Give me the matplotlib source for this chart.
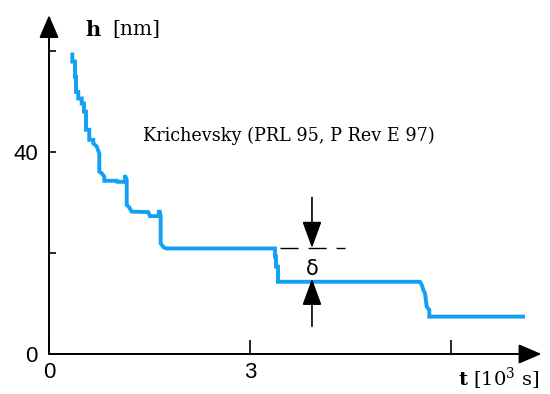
import matplotlib
matplotlib.use("Agg")
import matplotlib.pyplot as plt

# ---- data ----
t_vals = [0.348, 0.348, 0.388, 0.388, 0.403, 0.403, 0.437, 0.437, 0.488, 0.488,
          0.522, 0.522, 0.552, 0.552, 0.601, 0.601, 0.661, 0.661, 0.712, 0.751,
          0.751, 0.787, 0.825, 0.825, 1.010, 1.015, 1.134, 1.134, 1.160, 1.160,
          1.194, 1.234, 1.482, 1.507, 1.631, 1.646, 1.667, 1.667, 1.706, 1.746,
          3.373, 3.373, 3.388, 3.388, 3.418, 3.418, 5.537, 5.563, 5.587, 5.612,
          5.637, 5.676, 5.676, 7.104]
h_vals = [59.7, 57.9, 57.9, 54.9, 54.9, 51.9, 51.9, 50.6, 50.6, 49.6,
          49.6, 48.0, 48.0, 44.4, 44.4, 42.4, 42.4, 41.7, 41.1, 39.7,
          36.1, 35.8, 35.1, 34.3, 34.3, 34.1, 34.1, 35.4, 34.5, 29.5,
          29.1, 28.2, 28.1, 27.3, 27.3, 28.5, 27.3, 21.9, 21.2, 20.9,
          20.9, 19.3, 19.3, 17.3, 17.3, 14.3, 14.3, 13.7, 12.7, 12.0,
          9.4, 8.7, 7.4, 7.4]

x_ticks = [0, 3, 6]
x_tick_labels = ["0", "3", ""]
y_ticks = [0, 20, 40, 60]
y_tick_labels = ["0", "", "40", ""]

delta_x = 3.925
delta_upper = 21.0
delta_lower = 14.3
annotation_text = "Krichevsky (PRL 95, P Rev E 97)"

plt.rcParams['mathtext.fontset'] = 'dejavuserif'

fig = plt.figure(figsize=(5.5, 3.94), dpi=100, facecolor="white")
W, H = 550.0, 394.0
x0, xmax = 0.0, 7.35
y0, ymax = 0.0, 67.5
ax = fig.add_axes([49 / W, (H - 354) / H, (xmax * 67) / W, (ymax * 5.05) / H])
ax.set_xlim(x0, xmax)
ax.set_ylim(y0, ymax)
for s in ax.spines.values():
    s.set_visible(False)
ax.patch.set_alpha(0)

# axes with arrow heads
axis_kw = dict(arrowstyle="-|>,head_length=0.7,head_width=0.3", color="black",
               lw=1.4, shrinkA=0, shrinkB=0, mutation_scale=20)
ax.annotate("", xy=(7.35, 0), xytext=(0, 0), arrowprops=axis_kw, annotation_clip=False)
ax.annotate("", xy=(0, 67.1), xytext=(0, 0), arrowprops=axis_kw, annotation_clip=False)

ax.set_xticks(x_ticks)
ax.set_xticklabels(x_tick_labels)
ax.set_yticks(y_ticks)
ax.set_yticklabels(y_tick_labels)
ax.tick_params(axis="x", direction="in", length=10, width=1.2, pad=6,
               labelsize=16)
ax.tick_params(axis="y", direction="in", length=5, width=1.2, pad=8,
               labelsize=16)
for lab in ax.get_xticklabels() + ax.get_yticklabels():
    lab.set_fontfamily("Liberation Sans")
ax.get_xticklabels()[0].set_x(0.1)

# curve
ax.plot(t_vals, h_vals, color="#12A0F5", lw=2.8, solid_joinstyle="miter",
        solid_capstyle="butt", clip_on=False)

# delta annotation
dash_kw = dict(color="black", lw=1.0, dashes=(13, 7.2))
ax.plot([3.448, 4.418], [delta_upper, delta_upper], **dash_kw)
arr_kw = dict(arrowstyle="-|>,head_length=1.1,head_width=0.4", color="black",
              lw=1.2, shrinkA=0, shrinkB=0, mutation_scale=15)
ax.annotate("", xy=(delta_x, delta_upper), xytext=(delta_x, 31.0), arrowprops=arr_kw)
ax.annotate("", xy=(delta_x, delta_lower + 0.6), xytext=(delta_x, 5.5), arrowprops=arr_kw)
ax.text(delta_x, 16.8, "δ", ha="center", va="center", fontsize=15,
        family="DejaVu Sans")

ax.text(1.40, 43.2, annotation_text, ha="left", va="center", fontsize=12.7,
        family="DejaVu Serif")

# axis labels
fig.text(85 / W, 1 - 30 / H, "h", ha="left", va="center", fontsize=15,
         family="DejaVu Serif", fontweight="bold")
fig.text(112 / W, 1 - 29 / H, "[nm]", ha="left", va="center", fontsize=14.5,
         family="DejaVu Serif")
fig.text(458 / W, 1 - 392 / H, r"$\mathbf{t}$ [10$^{3}$ s]", ha="left", va="bottom",
         fontsize=14, family="DejaVu Serif")

fig.savefig("out.png", dpi=100, facecolor="white")
